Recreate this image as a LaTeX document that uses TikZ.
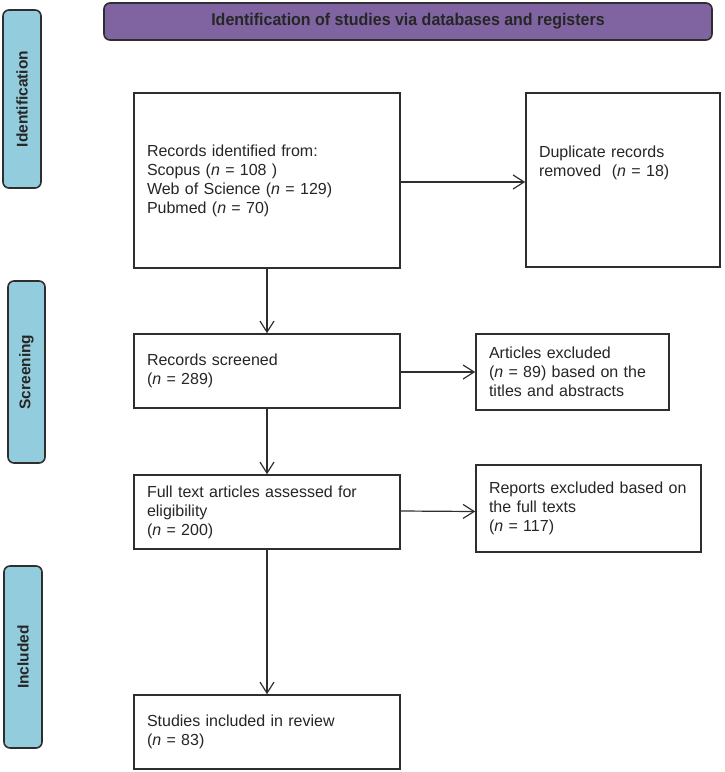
\documentclass[tikz,border=0pt]{standalone}
\usepackage{fontspec}
\setmainfont{Liberation Sans}
\newfontfamily\headfont[FakeStretch=0.94]{Liberation Sans}
\usetikzlibrary{arrows.meta}
\definecolor{tabblue}{HTML}{93CDDD}
\definecolor{headpurple}{HTML}{8064A2}
\definecolor{edge}{HTML}{2E2E2E}
\tikzset{
  box/.style={draw=edge, line width=1.6pt, fill=white, inner xsep=13pt, inner ysep=4pt,
    align=left, font=\fontsize{16}{19}\selectfont, text=black!85},
  tab/.style={draw=edge, line width=1.6pt, fill=tabblue, rounded corners=6pt, rotate=90,
    font=\bfseries\fontsize{15.5}{18}\selectfont, text=black!85},
  arr/.style={draw=edge, line width=1.2pt, -{Straight Barb[length=11pt,width=14pt,line width=1.2pt]}},
}
\begin{document}
\begin{tikzpicture}[x=1pt,y=-1pt]
\useasboundingbox (0,0) rectangle (724,772);
% header
\node[draw=edge, line width=1.6pt, fill=headpurple, rounded corners=6pt, minimum width=608pt,
  minimum height=37pt, font=\headfont\bfseries\fontsize{17}{19}\selectfont, text=black!85]
  (head) at (408,21.5) {Identification of studies via databases and registers};
% side tabs
\node[tab, minimum width=178pt, minimum height=38pt] (tid) at (22,99) {Identification};
\node[tab, minimum width=182pt, minimum height=37pt] (tsc) at (26.5,372) {Screening};
\node[tab, minimum width=182pt, minimum height=38pt] (tin) at (23,657) {Included};
% boxes
\node[box, minimum width=266pt, minimum height=175pt, text width=240pt] (b1) at (267,180.5)
  {Records identified from:\\Scopus (\textit{n} = 108 )\\Web of Science (\textit{n} = 129)\\Pubmed (\textit{n} = 70)};
\node[box, minimum width=194pt, minimum height=174pt, text width=168pt] (b2) at (623,180)
  {Duplicate records\\removed\ \ (\textit{n} = 18)\\ \mbox{}\\ \mbox{}};
\node[box, minimum width=266pt, minimum height=74pt, text width=240pt] (b3) at (267,371)
  {Records screened\\(\textit{n} = 289)};
\node[box, minimum width=193pt, minimum height=76pt, text width=167pt] (b4) at (572.5,372)
  {Articles excluded\\(\textit{n} = 89) based on the\\titles and abstracts};
\node[box, minimum width=266pt, minimum height=74pt, text width=240pt] (b5) at (267,512)
  {Full text articles assessed for\\eligibility\\(\textit{n} = 200)};
\node[box, minimum width=225pt, minimum height=87pt, text width=199pt] (b6) at (588.5,508.5)
  {Reports excluded based on\\the full texts\\(\textit{n} = 117)};
\node[box, minimum width=266pt, minimum height=74pt, text width=240pt] (b7) at (267,732)
  {Studies included in review\\(\textit{n} = 83)};
% arrows
\draw[arr] ([yshift=-1.5pt]b1.east) -- ([yshift=-1.5pt]b1.east -| b2.west);
\draw[arr] (b1.south) -- (b3.north);
\draw[arr] ([yshift=-1pt]b3.east) -- ([yshift=-1pt]b3.east -| b4.west);
\draw[arr] (b3.south) -- (b5.north);
\draw[arr] ([yshift=1pt]b5.east) -- ([yshift=-3pt]b6.west);
\draw[arr] (b5.south) -- (b7.north);
\end{tikzpicture}
\end{document}
